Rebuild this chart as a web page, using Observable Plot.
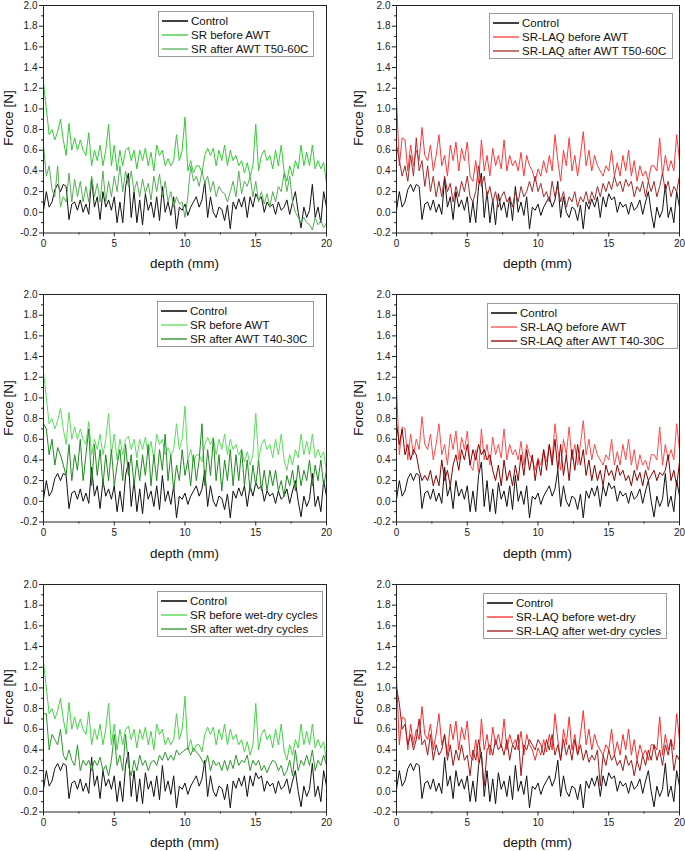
<!DOCTYPE html>
<html><head><meta charset="utf-8">
<script src="https://cdn.jsdelivr.net/npm/d3@7"></script>
<script src="https://cdn.jsdelivr.net/npm/@observablehq/plot@0.6"></script>
<style>
body{margin:0;background:#fff;}
#root{position:relative;width:685px;height:851px;overflow:hidden;font-family:"Liberation Sans",Arial,sans-serif;background:#fff;}
.panel{position:absolute;}
.xt{position:absolute;font-size:13.5px;color:#111;transform:translate(-50%,-50%);white-space:nowrap;}
.yt{position:absolute;font-size:13.5px;color:#111;transform:translate(-50%,-50%) rotate(-90deg);white-space:nowrap;}
.leg{position:absolute;border:1px solid #9a9a9a;background:#fff;font-size:11.5px;color:#111;box-sizing:border-box;}
.leg .t{position:absolute;white-space:nowrap;left:32px;transform:translateY(-50%);}
.leg svg{position:absolute;left:3px;}
</style></head><body><div id="root"></div><script>
// x sampling (mm)
const depth = d3.range(0, 101).map(i => +(i * 0.2).toFixed(1));
const yTicks = [-0.2, 0.0, 0.2, 0.4, 0.6, 0.8, 1.0, 1.2, 1.4, 1.6, 1.8, 2.0];
const yMinor = [-0.1, 0.1, 0.3, 0.5, 0.7, 0.9, 1.1, 1.3, 1.5, 1.7, 1.9];
const xTicks = [0, 5, 10, 15, 20];
const xMinor = [2.5, 7.5, 12.5, 17.5];

const control = [0.02,0.2,0.05,0.1,0.22,0.27,0.2,0.27,0.25,-0.07, 0.08,0.1,0.02,0.12,0.0,0.08,-0.02,0.33,0.05,0.15, -0.07,0.2,0.05,0.12,0.02,0.15,-0.1,0.1,-0.1,0.25, 0.38,-0.05,0.2,-0.1,0.12,-0.12,0.18,0.02,0.1,-0.05, 0.15,-0.08,0.25,0.0,0.1,-0.03,0.15,-0.16,0.05,0.02, 0.08,-0.03,0.05,0.1,0.15,0.05,0.12,0.3,-0.05,0.15, 0.0,-0.05,0.05,0.03,-0.08,0.07,-0.16,0.1,0.03,0.13, 0.05,0.15,-0.05,0.15,0.05,0.18,0.12,0.15,0.0,0.1, 0.05,0.08,-0.02,0.1,0.02,0.05,0.12,-0.02,0.1,0.2, 0.0,-0.15,0.05,-0.05,0.02,0.27,-0.05,0.05,-0.1,0.2, 0.05];

const srBefore = [1.25,1.0,0.75,0.8,0.7,0.78,0.9,0.7,0.55,0.86, 0.6,0.72,0.6,0.7,0.6,0.55,0.77,0.45,0.6,0.5, 0.65,0.45,0.6,0.85,0.45,0.65,0.4,0.6,0.45,0.6, 0.63,0.5,0.6,0.42,0.6,0.5,0.62,0.45,0.58,0.4, 0.65,0.55,0.6,0.45,0.52,0.45,0.5,0.75,0.5,0.6, 0.92,0.4,0.5,0.38,0.45,0.45,0.38,0.55,0.62,0.55, 0.62,0.45,0.6,0.5,0.65,0.45,0.6,0.5,0.55,0.45, 0.5,0.38,0.48,0.35,0.45,0.85,0.4,0.55,0.6,0.5, 0.55,0.42,0.6,0.45,0.65,0.4,0.3,0.45,0.35,0.5, 0.42,0.65,0.45,0.58,0.45,0.65,0.42,0.5,0.42,0.48, 0.28];

const srAfterT5060 = [0.65,0.35,0.45,0.22,0.15,0.45,0.05,0.15,0.1,0.38, 0.1,0.32,0.15,0.3,0.1,0.25,0.1,0.35,0.15,0.28, 0.1,0.4,0.1,0.3,0.15,0.35,0.2,0.45,0.2,0.4, 0.25,0.4,0.2,0.3,0.15,0.32,0.18,0.28,0.12,0.35, 0.2,0.37,0.15,0.3,0.1,0.2,0.05,0.15,0.08,0.1, -0.05,0.15,0.45,0.3,0.35,0.25,0.4,0.28,0.35,0.2, 0.3,0.15,0.25,0.2,0.18,0.1,0.2,0.3,0.15,0.4, 0.18,0.3,0.25,0.35,0.15,0.3,0.1,0.2,0.08,0.18, 0.05,0.2,0.1,0.25,0.2,0.38,0.2,0.35,0.1,0.0, -0.05,-0.1,-0.05,-0.1,-0.12,-0.17,-0.05,-0.12,-0.08,-0.15, -0.1];

const srAfterT4030 = [0.75,0.7,0.45,0.6,0.35,0.52,0.45,0.35,0.25,0.55, 0.2,0.45,0.3,0.6,0.2,0.45,0.7,0.15,0.55,0.25, 0.5,0.15,0.45,0.2,0.5,0.15,0.35,0.5,0.2,0.55, 0.25,0.45,0.15,0.4,0.2,0.45,0.25,0.55,0.15,0.45, 0.2,0.5,0.3,0.65,0.2,0.45,0.1,0.35,0.2,0.5, 0.25,0.4,0.15,0.45,0.2,0.4,0.75,0.15,0.5,0.25, 0.6,0.2,0.45,0.1,0.4,0.2,0.5,0.15,0.45,0.2, 0.5,0.15,0.4,0.1,0.35,0.15,0.4,0.1,0.3,0.1, 0.3,0.15,0.3,0.1,0.2,0.05,0.25,0.15,0.3,0.1, 0.35,0.15,0.3,0.2,0.4,0.15,0.35,0.2,0.4,0.15, 0.3];

const srAfterWetDry = [0.75,0.75,0.4,0.55,0.5,0.45,0.6,0.35,0.3,0.4, 0.3,0.25,0.45,0.2,0.3,0.25,0.3,0.2,0.3,0.25, 0.33,0.2,0.25,0.15,0.3,0.55,0.25,0.35,0.2,0.55, 0.25,0.15,0.3,0.2,0.35,0.25,0.3,0.2,0.28,0.3, 0.25,0.35,0.3,0.38,0.3,0.35,0.3,0.4,0.35,0.38, 0.4,0.42,0.35,0.42,0.38,0.35,0.3,0.25,0.35,0.2, 0.3,0.25,0.28,0.2,0.3,0.2,0.3,0.22,0.35,0.25, 0.3,0.28,0.35,0.2,0.3,0.25,0.3,0.2,0.25,0.18, 0.25,0.3,0.28,0.2,0.25,0.15,0.2,0.3,0.15,0.4, 0.2,0.3,0.25,0.35,0.25,0.4,0.2,0.3,0.25,0.35, 0.25];

const laqBefore = [1.1,0.45,0.72,0.7,0.4,0.65,0.45,0.6,0.5,0.82, 0.55,0.5,0.65,0.4,0.55,0.75,0.45,0.55,0.35,0.65, 0.5,0.68,0.4,0.62,0.5,0.68,0.35,0.3,0.5,0.28, 0.7,0.4,0.55,0.35,0.62,0.45,0.55,0.42,0.7,0.4, 0.55,0.45,0.5,0.4,0.58,0.35,0.55,0.45,0.4,0.3, 0.42,0.35,0.5,0.38,0.55,0.4,0.75,0.5,0.3,0.6, 0.45,0.72,0.4,0.55,0.35,0.55,0.78,0.45,0.6,0.4, 0.55,0.45,0.4,0.35,0.45,0.4,0.6,0.35,0.48,0.35, 0.55,0.4,0.6,0.35,0.5,0.3,0.45,0.35,0.4,0.3, 0.45,0.45,0.4,0.72,0.35,0.55,0.4,0.5,0.4,0.75, 0.5];

const laqAfterT5060 = [0.65,0.5,0.35,0.45,0.3,0.55,0.35,0.72,0.4,0.5, 0.25,0.45,0.2,0.35,0.15,0.3,0.15,0.35,0.2,0.28, 0.1,0.25,0.15,0.3,0.2,0.35,0.15,0.1,0.2,0.45, 0.25,0.35,0.15,0.25,0.1,0.2,0.05,0.15,0.2,0.1, 0.15,0.05,0.2,0.1,0.25,0.15,0.2,0.3,0.2,0.35, 0.2,0.28,0.15,0.2,0.1,0.3,0.15,0.25,0.1,0.2, 0.05,0.15,0.1,0.2,0.05,0.15,0.1,0.2,0.08,0.2, 0.12,0.25,0.15,0.28,0.2,0.3,0.22,0.35,0.25,0.3, 0.2,0.32,0.25,0.3,0.15,0.25,0.2,0.3,0.15,0.3, 0.2,0.3,0.15,0.25,0.38,0.2,0.3,0.15,0.25,0.2, 0.35];

const laqAfterT4030 = [0.75,0.55,0.7,0.45,0.55,0.4,0.5,0.45,0.3,0.2, 0.25,0.2,0.3,0.15,0.25,0.15,0.4,0.2,0.3,0.15, 0.35,0.45,0.3,0.5,0.4,0.55,0.35,0.5,0.4,0.55, 0.45,0.5,0.4,0.45,0.3,0.2,0.35,0.15,0.4,0.2, 0.3,0.15,0.35,0.2,0.45,0.25,0.5,0.3,0.45,0.2, 0.4,0.25,0.5,0.3,0.55,0.35,0.6,0.3,0.55,0.25, 0.45,0.2,0.5,0.3,0.55,0.35,0.5,0.25,0.4,0.2, 0.35,0.2,0.3,0.15,0.35,0.25,0.3,0.2,0.35,0.25, 0.3,0.2,0.25,0.15,0.3,0.2,0.28,0.15,0.3,0.2, 0.25,0.3,0.2,0.28,0.25,0.3,0.45,0.2,0.3,0.15, 0.38];

const laqAfterWetDry = [1.0,0.85,0.6,0.65,0.45,0.55,0.4,0.5,0.7,0.45, 0.5,0.35,0.55,0.3,0.45,0.35,0.4,0.55,0.3,0.45, 0.25,0.4,0.3,0.45,0.3,0.35,0.15,0.4,0.3,0.5, 0.35,0.05,0.4,0.45,0.35,0.5,0.4,0.45,0.35,0.5, 0.3,0.45,0.4,0.55,0.15,0.45,0.4,0.5,0.45,0.4, 0.5,0.45,0.35,0.5,0.4,0.55,0.35,0.45,0.3,0.5, 0.35,0.45,0.3,0.5,0.35,0.45,0.3,0.4,0.28,0.35, 0.3,0.4,0.05,0.35,0.25,0.4,0.3,0.35,0.25,0.3, 0.2,0.35,0.25,0.3,0.15,0.3,0.2,0.35,0.25,0.4, 0.3,0.45,0.3,0.4,0.25,0.45,0.35,0.5,0.2,0.35, 0.3];

const legendNames = [
  ["Control", "SR before AWT", "SR after AWT T50-60C"],
  ["Control", "SR-LAQ before AWT", "SR-LAQ after AWT T50-60C"],
  ["Control", "SR before AWT", "SR after AWT T40-30C"],
  ["Control", "SR-LAQ before AWT", "SR-LAQ after AWT T40-30C"],
  ["Control", "SR before wet-dry cycles", "SR after wet-dry cycles"],
  ["Control", "SR-LAQ before wet-dry", "SR-LAQ after wet-dry cycles"]
];
const panelSeries = [
  [control, srBefore, srAfterT5060],
  [control, laqBefore, laqAfterT5060],
  [control, srBefore, srAfterT4030],
  [control, laqBefore, laqAfterT4030],
  [control, srBefore, srAfterWetDry],
  [control, laqBefore, laqAfterWetDry]
];
const panelColors = [
  ["#111111", "#33cc33", "#55b155"],
  ["#111111", "#ff3838", "#a52a2a"],
  ["#111111", "#5ade5a", "#1e8c1e"],
  ["#111111", "#ff4a4a", "#8b0000"],
  ["#111111", "#44d444", "#2a9a2a"],
  ["#111111", "#ff2a2a", "#a01818"]
];

// layout
const rowTops = [4.5, 294, 583.7];
const plotH = 227.5;
const colLeft = [43, 396];
const plotW = 283;
const legBoxes = [
  [158, 11, 156, 46], [489, 13, 184, 46],
  [157, 300.5, 157, 46], [487, 302.5, 191, 46],
  [157, 590.5, 166, 46], [483, 593, 184, 46]
];

const root = document.getElementById("root");
const font = '"Liberation Sans", Arial, sans-serif';

for (let p = 0; p < 6; p++) {
  const r = Math.floor(p / 2), c = p % 2;
  const svgLeft = c === 0 ? 0 : 345;
  const svgW = c === 0 ? 345 : 340;
  const ml = colLeft[c] - svgLeft;
  const mt = 4, mb = 30;
  const chart = Plot.plot({
    width: svgW,
    height: mt + plotH + mb,
    marginLeft: ml,
    marginRight: svgW - ml - plotW,
    marginTop: mt,
    marginBottom: mb,
    x: {domain: [0, 20]},
    y: {domain: [-0.2, 2.0]},
    style: {fontFamily: font, fontSize: "10px", color: "#222", background: "transparent", overflow: "visible"},
    marks: [
      ...panelSeries[p].map((vals, k) => Plot.line(vals, {
        x: (d, i) => depth[i], y: d => d,
        stroke: panelColors[p][k], strokeWidth: 1
      })),
      Plot.frame({stroke: "#222", strokeWidth: 1}),
      Plot.axisY(yMinor, {tickSize: 2, tickFormat: () => "", label: null, stroke: "#222"}),
      Plot.axisY(yTicks, {tickSize: 4, tickPadding: 2, tickFormat: d => d.toFixed(1), label: null, stroke: "#222"}),
      Plot.axisX(xMinor, {tickSize: 2, tickFormat: () => "", label: null, stroke: "#222"}),
      Plot.axisX(xTicks, {tickSize: 4, tickPadding: 3, tickFormat: d => String(d), label: null, stroke: "#222"})
    ]
  });
  const wrap = document.createElement("div");
  wrap.className = "panel";
  wrap.style.left = svgLeft + "px";
  wrap.style.top = (rowTops[r] - mt) + "px";
  wrap.appendChild(chart);
  root.appendChild(wrap);

  // axis titles
  const xt = document.createElement("div");
  xt.className = "xt";
  xt.textContent = "depth (mm)";
  xt.style.left = (colLeft[c] + plotW / 2) + "px";
  xt.style.top = (rowTops[r] + plotH + 31) + "px";
  root.appendChild(xt);
  const yt = document.createElement("div");
  yt.className = "yt";
  yt.textContent = "Force [N]";
  yt.style.left = (c === 0 ? 8 : 358) + "px";
  yt.style.top = (rowTops[r] + plotH / 2) + "px";
  root.appendChild(yt);

  // legend
  const [lx, ly, lw, lh] = legBoxes[p];
  const leg = document.createElement("div");
  leg.className = "leg";
  leg.style.left = lx + "px"; leg.style.top = ly + "px";
  leg.style.width = lw + "px"; leg.style.height = lh + "px";
  legendNames[p].forEach((name, k) => {
    const cy = 9 + k * 14;
    const s = document.createElementNS("http://www.w3.org/2000/svg", "svg");
    s.setAttribute("width", 26); s.setAttribute("height", 4);
    s.style.top = (cy - 2) + "px";
    const ln = document.createElementNS("http://www.w3.org/2000/svg", "line");
    ln.setAttribute("x1", 0); ln.setAttribute("x2", 26);
    ln.setAttribute("y1", 2); ln.setAttribute("y2", 2);
    ln.setAttribute("stroke", panelColors[p][k]);
    ln.setAttribute("stroke-width", k === 0 ? 1.6 : 1.3);
    s.appendChild(ln);
    leg.appendChild(s);
    const t = document.createElement("div");
    t.className = "t";
    t.style.top = cy + "px";
    t.textContent = name;
    leg.appendChild(t);
  });
  root.appendChild(leg);
}
</script></body></html>
